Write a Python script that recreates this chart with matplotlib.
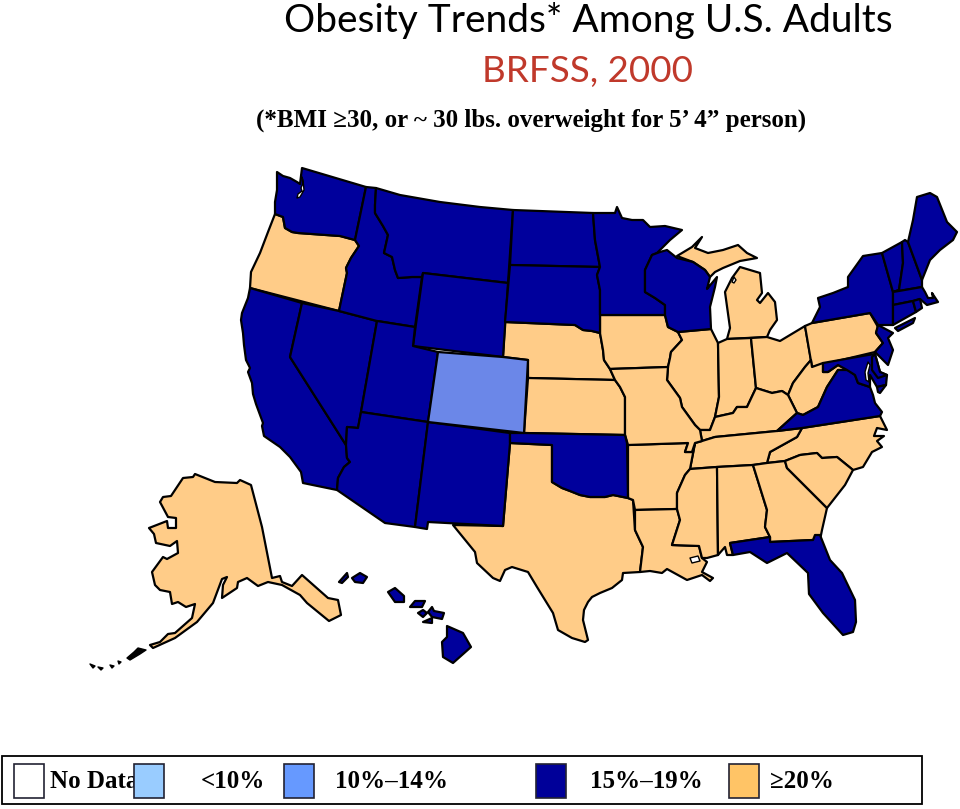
import matplotlib
matplotlib.use('Agg')
import matplotlib.pyplot as plt
from matplotlib.patches import Polygon, Rectangle

# outlines, in image pixels
WA = [(277,172),(283,176),(290,178),(297,182),(300,184),(302,168),(366,187),(355,240),(340,236),(326,235),(312,234),(298,233),(292,232),(285,228),(283,217),(275,214),(275,202),(277,190)]
WA_sound = [(301,175),(303,183),(301,188),(302,191),(298,194),(297,198),(300,197),(304,190),(303,180)]
OR = [(275,214),(283,217),(285,228),(292,232),(298,233),(312,234),(326,235),(340,236),(355,240),(359,246),(351,258),(346,268),(347,273),(339,311),(250,288),(251,272),(260,253),(268,232)]
CA = [(250,288),(302,303),(290,357),(346,445),(347,458),(350,462),(344,467),(338,478),(337,490),(303,483),(301,472),(290,457),(280,447),(264,436),(262,426),(263,423),(256,404),(253,394),(252,383),(248,372),(250,368),(246,360),(244,345),(243,333),(241,320),(242,313),(248,298)]
NV = [(302,303),(339,311),(377,321),(361,412),(358,428),(347,427),(346,445),(290,357)]
ID = [(366,187),(376,188),(375,205),(375,213),(383,226),(388,235),(384,253),(392,257),(395,270),(398,278),(412,277),(422,277),(415,327),(377,321),(339,311),(347,273),(346,268),(351,258),(359,246),(355,240)]
MT = [(376,188),(400,195),(440,202),(480,207),(513,210),(508,283),(423,273),(422,277),(412,277),(398,278),(395,270),(392,257),(384,253),(388,235),(383,226),(375,213),(375,205)]
WY = [(423,273),(508,283),(503,357),(413,346)]
UT = [(377,321),(415,327),(413,346),(438,352),(428,422),(361,412)]
CO = [(438,352),(503,357),(528,360),(524,433),(428,422)]
NE = [(505,322),(575,325),(583,330),(592,331),(600,333),(603,350),(604,360),(610,369),(615,380),(528,378),(528,360),(503,357)]
KS = [(528,378),(615,380),(620,387),(625,397),(625,435),(524,433)]
OK = [(510,433),(524,433),(625,435),(627,443),(628,498),(613,495),(605,497),(590,497),(580,495),(570,491),(562,488),(552,482),(552,445),(510,443)]
TX = [(510,443),(552,445),(552,482),(562,488),(570,491),(580,495),(590,497),(605,497),(613,495),(628,498),(633,500),(635,530),(643,547),(640,572),(623,573),(622,580),(612,588),(600,593),(592,597),(588,602),(584,610),(583,620),(588,640),(585,642),(572,638),(558,630),(553,613),(537,587),(528,572),(512,567),(505,570),(500,581),(493,578),(477,563),(475,552),(453,525),(503,526)]
NM = [(428,422),(510,433),(510,443),(503,526),(428,522),(427,529),(415,527)]
AZ = [(361,412),(428,422),(415,527),(385,523),(337,490),(338,478),(344,467),(350,462),(347,458),(346,445),(347,427),(358,428)]
ND = [(513,210),(593,213),(595,240),(600,267),(510,265)]
SD = [(510,265),(600,267),(597,275),(600,290),(600,315),(600,333),(592,331),(583,330),(575,325),(505,322)]
MN = [(593,213),(615,213),(617,207),(622,218),(632,220),(643,220),(650,227),(665,226),(682,230),(670,240),(657,253),(652,255),(645,270),(645,292),(655,298),(665,305),(665,315),(600,315),(600,290),(597,275),(600,267),(595,240)]
IA = [(600,315),(665,315),(668,327),(678,332),(682,340),(671,352),(670,358),(668,367),(610,369),(604,360),(603,350),(600,333)]
WI = [(652,255),(660,252),(667,250),(677,258),(693,262),(705,270),(710,277),(708,285),(707,289),(717,277),(715,287),(710,307),(711,329),(678,332),(668,327),(665,315),(665,305),(655,298),(645,292),(645,270)]
MI_up = [(677,256),(692,247),(702,237),(695,248),(708,253),(723,250),(738,245),(747,253),(757,258),(740,261),(723,268),(715,272),(710,277),(705,270),(693,262)]
MI_low = [(740,267),(760,273),(762,293),(757,300),(760,303),(768,293),(775,302),(777,320),(770,330),(767,337),(727,339),(730,328),(725,292),(732,278)]
MI_bay = [(734,277),(736,280),(734,283),(732,282)]
IL = [(678,332),(711,329),(718,343),(719,397),(715,417),(710,430),(700,430),(695,425),(682,407),(680,398),(667,380),(668,367),(670,358),(671,352),(682,340)]
IN = [(718,343),(727,339),(751,338),(756,388),(747,407),(737,407),(733,413),(715,417),(719,397)]
OH = [(751,338),(767,337),(780,341),(805,326),(811,360),(805,367),(793,383),(788,395),(782,391),(772,393),(756,388)]
PA = [(805,326),(812,323),(870,313),(878,327),(876,333),(883,343),(875,352),(812,367)]
WV = [(811,360),(812,367),(823,363),(823,372),(828,372),(838,365),(848,370),(838,370),(827,387),(818,407),(803,415),(797,413),(788,395),(793,383),(805,367)]
KY = [(715,417),(733,413),(737,407),(747,407),(756,388),(772,393),(782,391),(788,395),(797,413),(777,431),(715,437),(702,441),(700,430),(710,430)]
VA = [(777,431),(797,413),(803,415),(818,407),(827,387),(838,370),(848,370),(855,375),(858,383),(870,387),(873,395),(875,403),(882,412),(880,416),(802,428)]
MD = [(823,363),(868,355),(875,354),(880,372),(887,375),(886,385),(877,387),(870,375),(870,387),(858,383),(855,375),(847,370),(838,365),(828,372),(823,372)]
MD_bay = [(868,362),(865,372),(866,380),(869,382),(868,373),(870,365)]
DE = [(872,357),(875,354),(880,372),(887,375),(878,378),(872,370)]
VA_shore = [(877,387),(886,385),(880,393),(878,392)]
NJ = [(878,325),(893,333),(888,338),(893,350),(888,365),(875,352),(883,343),(876,333)]
NY = [(812,323),(820,307),(818,298),(833,293),(848,287),(848,277),(863,256),(882,253),(893,292),(893,325),(878,325),(870,313)]
LI = [(895,328),(915,318),(913,323),(898,331)]
VT = [(882,253),(902,242),(903,263),(899,290),(893,292)]
NH = [(902,242),(905,240),(908,242),(922,280),(922,287),(893,292),(899,290),(903,263)]
ME = [(908,242),(913,220),(917,197),(930,193),(937,197),(947,222),(957,232),(953,240),(940,250),(930,260),(922,280)]
MA = [(893,292),(922,287),(925,292),(928,298),(933,298),(932,293),(938,302),(927,305),(920,299),(913,301),(893,305)]
CT = [(893,305),(913,301),(916,312),(893,325)]
RI = [(913,301),(920,299),(922,308),(916,312)]
NC = [(802,428),(880,416),(887,430),(877,428),(874,436),(884,436),(877,441),(882,447),(872,452),(863,467),(853,470),(837,457),(822,458),(817,453),(800,455),(785,461),(767,463),(770,452),(797,437)]
TN = [(702,441),(715,437),(777,431),(802,428),(797,437),(770,452),(767,463),(753,465),(717,467),(690,469),(695,443)]
AR = [(628,445),(688,443),(685,452),(692,452),(695,443),(690,469),(685,475),(677,493),(677,509),(635,510),(633,500),(628,498)]
MO = [(610,369),(668,367),(667,380),(680,398),(682,407),(695,425),(700,430),(702,441),(695,443),(692,452),(685,452),(688,443),(628,445),(625,435),(625,397),(620,387),(615,380)]
LA = [(635,510),(677,509),(680,520),(672,545),(699,546),(702,558),(707,562),(702,572),(713,578),(710,581),(702,575),(687,580),(667,569),(662,573),(650,571),(640,572),(643,547),(635,530)]
LA_lake = [(690,558),(698,556),(700,561),(692,563)]
MS = [(690,469),(717,467),(718,555),(707,558),(702,558),(699,546),(672,545),(680,520),(677,509),(677,493),(685,475)]
AL = [(717,467),(753,465),(767,510),(765,527),(770,537),(730,543),(733,555),(727,555),(725,547),(718,555)]
GA = [(753,465),(767,463),(785,461),(787,468),(807,488),(827,508),(822,530),(820,540),(813,540),(770,542),(770,537),(765,527),(767,510)]
SC = [(785,461),(800,455),(817,453),(822,458),(837,457),(853,470),(845,485),(827,508),(807,488),(787,468)]
FL = [(730,543),(770,537),(770,542),(813,540),(815,535),(820,535),(830,560),(842,573),(855,600),(856,622),(853,632),(843,635),(823,613),(809,594),(808,573),(787,553),(767,563),(750,552),(733,555)]
AK = [(195,474),(215,482),(237,483),(240,480),(251,485),(262,527),(272,578),(280,576),(282,582),(292,586),(302,575),(328,598),(338,600),(341,615),(329,621),(307,603),(300,595),(282,585),(268,582),(258,586),(247,578),(238,582),(237,588),(222,598),(223,585),(227,577),(222,579),(213,603),(197,622),(175,638),(153,648),(150,645),(160,642),(168,634),(175,633),(192,618),(195,604),(186,607),(178,602),(172,604),(170,592),(160,590),(155,585),(152,572),(163,557),(167,559),(178,553),(177,541),(170,546),(156,543),(154,534),(149,528),(167,521),(168,528),(176,528),(176,518),(168,517),(160,502),(163,497),(171,496),(183,478),(193,477)]
AK_isl = [[(90,664),(95,666),(93,668)],[(98,667),(103,668),(101,670)],[(110,665),(114,666),(112,668)],[(118,661),(121,662),(119,664)],[(127,658),(134,652),(138,648),(146,650),(140,654),(130,660)]]
HI = [[(339,582),(347,573),(348,577),(342,583)],
      [(352,578),(360,573),(367,577),(363,583),(355,582)],
      [(388,592),(395,588),(404,596),(404,602),(395,602)],
      [(410,607),(415,601),(425,601),(422,607)],
      [(418,613),(423,610),(427,613),(423,617)],
      [(428,612),(432,607),(434,611),(444,613),(442,619),(432,617)],
      [(423,622),(432,618),(432,623)],
      [(447,626),(463,633),(471,647),(453,663),(443,657),(442,642),(447,637)]]

band_10_14 = [CO]
band_15_19 = [WA,CA,NV,ID,MT,WY,UT,AZ,NM,ND,SD,MN,WI,OK,VA,MD,DE,VA_shore,NJ,NY,LI,VT,NH,ME,MA,CT,RI,FL] + HI
band_20 = [OR,NE,KS,TX,IA,MI_up,MI_low,IL,IN,OH,PA,WV,KY,NC,TN,AR,MO,LA,MS,AL,GA,SC,AK]

map_navy = '#00009C'
map_peach = '#FFCC88'
map_blue = '#6B87E8'

legend_labels = ['No Data', '<10%', '10%\u201314%', '15%\u201319%', '\u226520%']
legend_colors = ['white', '#99CCFF', '#6699FF', '#000099', '#FFC466']
legend_box_x = [14, 134, 284, 536, 729]
legend_text_x = [50, 201, 335, 590, 770]

fig = plt.figure(figsize=(9.6, 8.09), dpi=100)
ax = fig.add_axes([0, 0, 1, 1])
ax.set_xlim(0, 960)
ax.set_ylim(809, 0)
ax.axis('off')


def draw(pts, col, lw=1.6):
    ax.add_patch(Polygon(pts, closed=True, facecolor=col, edgecolor='black', linewidth=lw, joinstyle='round', zorder=2))


for s in band_20:
    draw(s, map_peach)
for s in band_15_19:
    draw(s, map_navy)
for s in band_10_14:
    draw(s, map_blue)
for s in [WA_sound, MI_bay, LA_lake, MD_bay]:
    draw(s, 'white', 1.0)
for s in AK_isl:
    draw(s, 'black', 1.0)

# titles
ax.text(588, 32, 'Obesity Trends* Among U.S. Adults', family='Lato', fontsize=28, ha='center', va='baseline', color='black')
ax.text(588, 82, 'BRFSS, 2000', family='Lato', fontsize=26.5, ha='center', va='baseline', color='#C0392B')
ax.text(531, 127, '(*BMI \u226530, or ~ 30 lbs. overweight for 5\u2019 4\u201d person)', family='Liberation Serif',
        weight='bold', fontsize=18, ha='center', va='baseline')

# legend, the boxes sit over the text as in the slide
ax.add_patch(Rectangle((2, 756), 920, 48, facecolor='white', edgecolor='black', linewidth=1.3, zorder=1))
for i in range(len(legend_labels)):
    ax.text(legend_text_x[i], 788, legend_labels[i], family='Liberation Serif', weight='bold', fontsize=18, ha='left', va='baseline', zorder=2)
    ax.add_patch(Rectangle((legend_box_x[i], 764), 30, 34, facecolor=legend_colors[i], edgecolor='#222233', linewidth=1.2, zorder=3))

fig.savefig('out.png', dpi=100)
